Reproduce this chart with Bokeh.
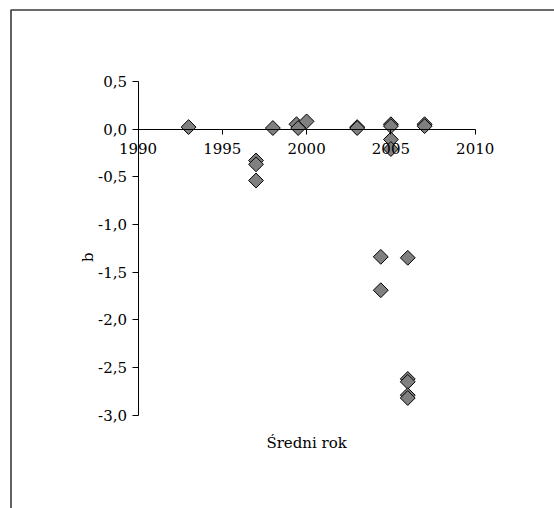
import numpy as np
from bokeh.plotting import figure
from bokeh.models import Range1d, FixedTicker, BoxAnnotation, Label
from bokeh.embed import file_html
from bokeh.resources import INLINE

# ---- data ----
years = [1993.0, 1997.0, 1997.0, 1997.0, 1998.0, 1999.4, 1999.5, 2000.0,
         2003.0, 2003.0, 2005.0, 2005.0, 2005.0, 2005.0,
         2004.4, 2004.4, 2006.0, 2006.0, 2006.0, 2006.0, 2006.0,
         2007.0, 2007.0]
b_values = [0.02, -0.33, -0.37, -0.54, 0.01, 0.05, 0.01, 0.08,
            0.02, 0.01, 0.05, 0.03, -0.11, -0.21,
            -1.34, -1.69, -1.35, -2.62, -2.65, -2.79, -2.82,
            0.05, 0.03]

x_ticks = [1990, 1995, 2000, 2005, 2010]
x_tick_labels = ["1990", "1995", "2000", "2005", "2010"]
y_ticks = [0.5, 0.0, -0.5, -1.0, -1.5, -2.0, -2.5, -3.0]
y_tick_labels = ["0,5", "0,0", "-0,5", "-1,0", "-1,5", "-2,0", "-2,5", "-3,0"]
x_title = "Średni rok"
y_title = "b"

FONT = "DejaVu Serif"
FS = "15px"

W, H = 554, 508
ax_x_px, ax_y_px = 137.5, 128.5        # where the axes cross (1990, 0)
px_per_year, px_per_unit = 16.86, 95.4
frame_left_px, frame_top_px = 10.5, 9.5

x0 = x_ticks[0] - ax_x_px / px_per_year
x1 = x0 + W / px_per_year
y1 = 0.0 + ax_y_px / px_per_unit
y0 = y1 - H / px_per_unit

p = figure(width=W, height=H, output_backend="svg", toolbar_location=None,
           x_range=Range1d(x0, x1), y_range=Range1d(y0, y1),
           min_border=0, background_fill_color="white",
           border_fill_color="white")
p.outline_line_color = None
p.grid.visible = False

# outer chart frame (only left and top edges are inside the crop)
p.add_layout(BoxAnnotation(left=x0 + frame_left_px / px_per_year,
                           top=y1 - frame_top_px / px_per_unit,
                           right=x1 + 5, bottom=y0 - 5,
                           fill_alpha=0, line_alpha=1.0,
                           line_color="#3a3a3a", line_width=1.6))

xa = p.xaxis[0]
xa.fixed_location = 0
xa.bounds = (x_ticks[0], x_ticks[-1])
xa.ticker = FixedTicker(ticks=x_ticks)
xa.major_label_overrides = dict(zip(x_ticks, x_tick_labels))
xa.minor_tick_line_color = None
xa.major_tick_in = 0
xa.major_tick_out = 5
xa.major_label_standoff = 9
xa.axis_line_color = "black"
xa.major_tick_line_color = "black"
xa.major_label_text_font = FONT
xa.major_label_text_font_size = FS
xa.major_label_text_color = "black"

ya = p.yaxis[0]
ya.fixed_location = x_ticks[0]
ya.bounds = (y_ticks[-1], y_ticks[0])
ya.ticker = FixedTicker(ticks=y_ticks)
ya.major_label_overrides = dict(zip(y_ticks, y_tick_labels))
ya.minor_tick_line_color = None
ya.major_tick_in = 0
ya.major_tick_out = 6
ya.major_label_standoff = 5
ya.axis_line_color = "black"
ya.major_tick_line_color = "black"
ya.major_label_text_font = FONT
ya.major_label_text_font_size = FS
ya.major_label_text_color = "black"

# axis titles
p.add_layout(Label(x=x_ticks[0], y=(y_ticks[0] + y_ticks[-1]) / 2,
                   x_offset=-50, y_offset=-9, angle=np.pi / 2,
                   text=y_title, text_align="center", text_baseline="middle",
                   text_font=FONT, text_font_size=FS, text_color="black"))
p.add_layout(Label(x=(x_ticks[0] + x_ticks[-1]) / 2, y=y_ticks[-1],
                   y_offset=-28, text=x_title, text_align="center",
                   text_baseline="alphabetic", text_font=FONT,
                   text_font_size=FS, text_color="black"))

p.scatter(years, b_values, marker="square", angle=np.pi / 4, size=10.5,
          fill_color="#808080", line_color="black", line_width=1)

open("out.html", "w").write(file_html(p, INLINE))
